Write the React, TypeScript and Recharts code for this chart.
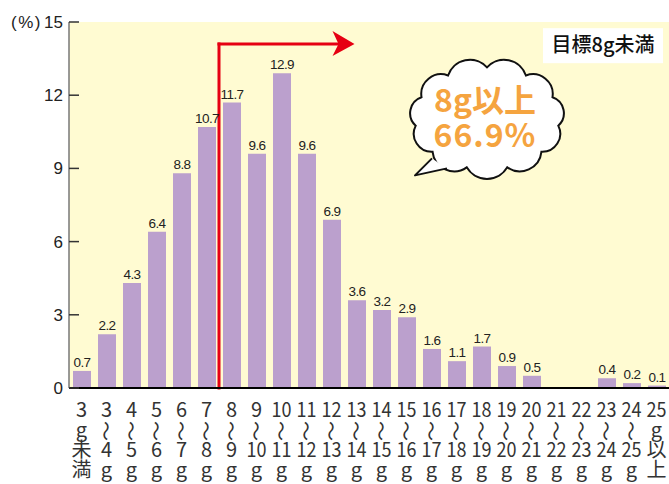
import { Bar, BarChart, CartesianGrid, LabelList, ReferenceDot, ReferenceLine, XAxis, YAxis } from 'recharts';

// 1日あたり食塩摂取量の分布（%）
const categories = [
  '3g未満', '3～4g', '4～5g', '5～6g', '6～7g', '7～8g', '8～9g', '9～10g',
  '10～11g', '11～12g', '12～13g', '13～14g', '14～15g', '15～16g', '16～17g', '17～18g',
  '18～19g', '19～20g', '20～21g', '21～22g', '22～23g', '23～24g', '24～25g', '25g以上',
];
const shares = [
  0.7, 2.2, 4.3, 6.4, 8.8, 10.7, 11.7, 9.6,
  12.9, 9.6, 6.9, 3.6, 3.2, 2.9, 1.6, 1.1,
  1.7, 0.9, 0.5, 0, 0, 0.4, 0.2, 0.1,
];
const yTicks = [0, 3, 6, 9, 12, 15];
const goalText = '目標8g未満';
const overText = ['8g以上', '66.9%'];

// 目標ライン: 8～9g の左端から立ち上がり、右向き矢印
const goalFrom = '8～9g';
const arrowTo = '13～14g';
const arrowHeadAt = '12～13g';
const arrowY = 14.1;
const cloudAt = { x: '18～19g', y: 11.05 };
const boxAt = { x: '23～24g', y: 14.05 };

const data = categories.map((name, i) => ({ name, value: shares[i] }));

const RED = '#e60012';
const PURPLE = '#bba0cd';
const CREAM = '#fffbd2';
const ORANGE = '#f5a43f';

// "3～4g" -> ["3", "～", "4", "g"], "3g未満" -> ["3", "g", "未", "満"]
function splitLabel(name: string): string[] {
  const range = name.match(/^(\d+)～(\d+)g$/);
  if (range) return [range[1], '～', range[2], 'g'];
  const m = name.match(/^(\d+)g(.)(.)$/);
  return m ? [m[1], 'g', m[2], m[3]] : [name];
}

function XTick({ x, y, payload }: any) {
  const lines = splitLabel(payload.value);
  return (
    <g>
      {lines.map((s, i) => {
        const base = y + 27 + i * 20;
        if (s === '～') {
          return (
            <text
              key={i}
              x={x}
              y={base - 6}
              textAnchor="middle"
              dominantBaseline="central"
              transform={`rotate(90 ${x} ${base - 6})`}
              fontSize={20}
              fill="#333"
              fontFamily="'Noto Sans CJK JP'"
            >
              ～
            </text>
          );
        }
        return (
          <text
            key={i}
            x={x}
            y={base}
            textAnchor="middle"
            fontSize={20}
            fill="#333"
            fontFamily="'Noto Sans CJK JP'"
            {...(s.length === 2 ? { textLength: 20, lengthAdjust: 'spacingAndGlyphs' } : {})}
          >
            {s}
          </text>
        );
      })}
    </g>
  );
}

function YTick({ x, y, payload }: any) {
  return (
    <g>
      <line x1={x + 6} x2={x + 16} y1={y} y2={y} stroke="#333" strokeWidth={1.5} />
      <text x={x} y={y + 6} textAnchor="end" fontSize={17} fill="#222" fontFamily="'Liberation Sans'">
        {payload.value}
      </text>
      {payload.value === 15 && (
        <text x={x - 21} y={y + 6} textAnchor="end" fontSize={17} fill="#222" fontFamily="'Liberation Sans'" letterSpacing={1.5}>
          (%)
        </text>
      )}
    </g>
  );
}

function ValueLabel({ x, y, width, value }: any) {
  if (!value) return null;
  return (
    <text x={x + width / 2} y={y - 4} textAnchor="middle" fontSize={13.5} fill="#222" fontFamily="'Liberation Sans'" letterSpacing={-0.6}>
      {value}
    </text>
  );
}

// 矢じり: 基準カテゴリ中央から右へ
function ArrowHead({ cx, cy }: any) {
  const b = cx + 1;
  return <polygon points={`${b + 22},${cy} ${b},${cy - 13} ${b + 6},${cy} ${b},${cy + 12}`} fill={RED} />;
}

function cloudPath(cx: number, cy: number, rx: number, ry: number, n: number) {
  const pts: number[][] = [];
  for (let i = 0; i < n; i++) {
    const a = (i / n) * Math.PI * 2 - Math.PI / 2;
    pts.push([cx + rx * Math.cos(a), cy + ry * Math.sin(a)]);
  }
  let d = `M${pts[0][0]},${pts[0][1]}`;
  for (let i = 1; i <= n; i++) {
    const [x1, y1] = pts[i - 1];
    const [x2, y2] = pts[i % n];
    const r = Math.hypot(x2 - x1, y2 - y1) * 0.58;
    d += ` A${r},${r} 0 0 1 ${x2},${y2}`;
  }
  return d + 'Z';
}

function Cloud({ cx: px, cy }: any) {
  const cx = px + 5.5;
  const tail = `${cx - 55},${cy + 40} ${cx - 72},${cy + 57} ${cx - 40},${cy + 50}`;
  return (
    <g>
      <path d={cloudPath(cx, cy, 72, 51, 11)} fill="#fff" stroke="#111" strokeWidth={2} />
      <polygon points={tail} fill="#fff" />
      <polyline points={tail} fill="none" stroke="#111" strokeWidth={2} strokeLinejoin="round" />
      <text x={cx - 2} y={cy - 6} textAnchor="middle" fontSize={32} fontWeight={700} fill={ORANGE} fontFamily="'Noto Sans CJK JP'">
        {overText[0]}
      </text>
      <text x={cx - 2} y={cy + 29} textAnchor="middle" fontSize={32} fontWeight={700} fill={ORANGE} fontFamily="'Noto Sans CJK JP'" letterSpacing={1}>
        {overText[1]}
      </text>
    </g>
  );
}

function GoalBox({ cx: px, cy }: any) {
  const cx = px - 3.5;
  return (
    <g>
      <rect x={cx - 60} y={cy - 17} width={120} height={35} fill="#fff" />
      <text x={cx} y={cy + 7} textAnchor="middle" fontSize={20} fontWeight={500} fill="#111" fontFamily="'Noto Sans CJK JP'">
        {goalText}
      </text>
    </g>
  );
}

export default function App() {
  return (
    <div style={{ position: 'absolute', left: 0, top: 0, width: 669, height: 484, background: '#fff' }}>
      <BarChart width={669} height={484} data={data} margin={{ top: 22, right: 0, bottom: 0, left: 0 }}>
        <CartesianGrid fill={CREAM} horizontal={false} vertical={false} stroke="none" />
        <XAxis
          dataKey="name"
          height={96}
          interval={0}
          tickLine={false}
          tickSize={0}
          tick={<XTick />}
          axisLine={{ stroke: '#000', strokeWidth: 2 }}
        />
        <YAxis
          width={69}
          domain={[0, 15]}
          ticks={yTicks}
          interval={0}
          tickLine={false}
          tickSize={0}
          tickMargin={6}
          tick={<YTick />}
          axisLine={{ stroke: '#777', strokeWidth: 1.5 }}
        />
        <Bar dataKey="value" fill={PURPLE} barSize={18} isAnimationActive={false}>
          <LabelList dataKey="value" content={<ValueLabel />} />
        </Bar>
        <ReferenceLine
          segment={[{ x: goalFrom, y: 0 }, { x: goalFrom, y: arrowY }]}
          position="start"
          stroke={RED}
          strokeWidth={3}
          strokeLinecap="square"
        />
        <ReferenceLine
          segment={[{ x: goalFrom, y: arrowY }, { x: arrowTo, y: arrowY }]}
          position="start"
          stroke={RED}
          strokeWidth={3}
          strokeLinecap="square"
        />
        <ReferenceDot x={arrowHeadAt} y={arrowY} shape={<ArrowHead />} />
        <ReferenceDot x={cloudAt.x} y={cloudAt.y} shape={<Cloud />} />
        <ReferenceDot x={boxAt.x} y={boxAt.y} shape={<GoalBox />} />
      </BarChart>
    </div>
  );
}
